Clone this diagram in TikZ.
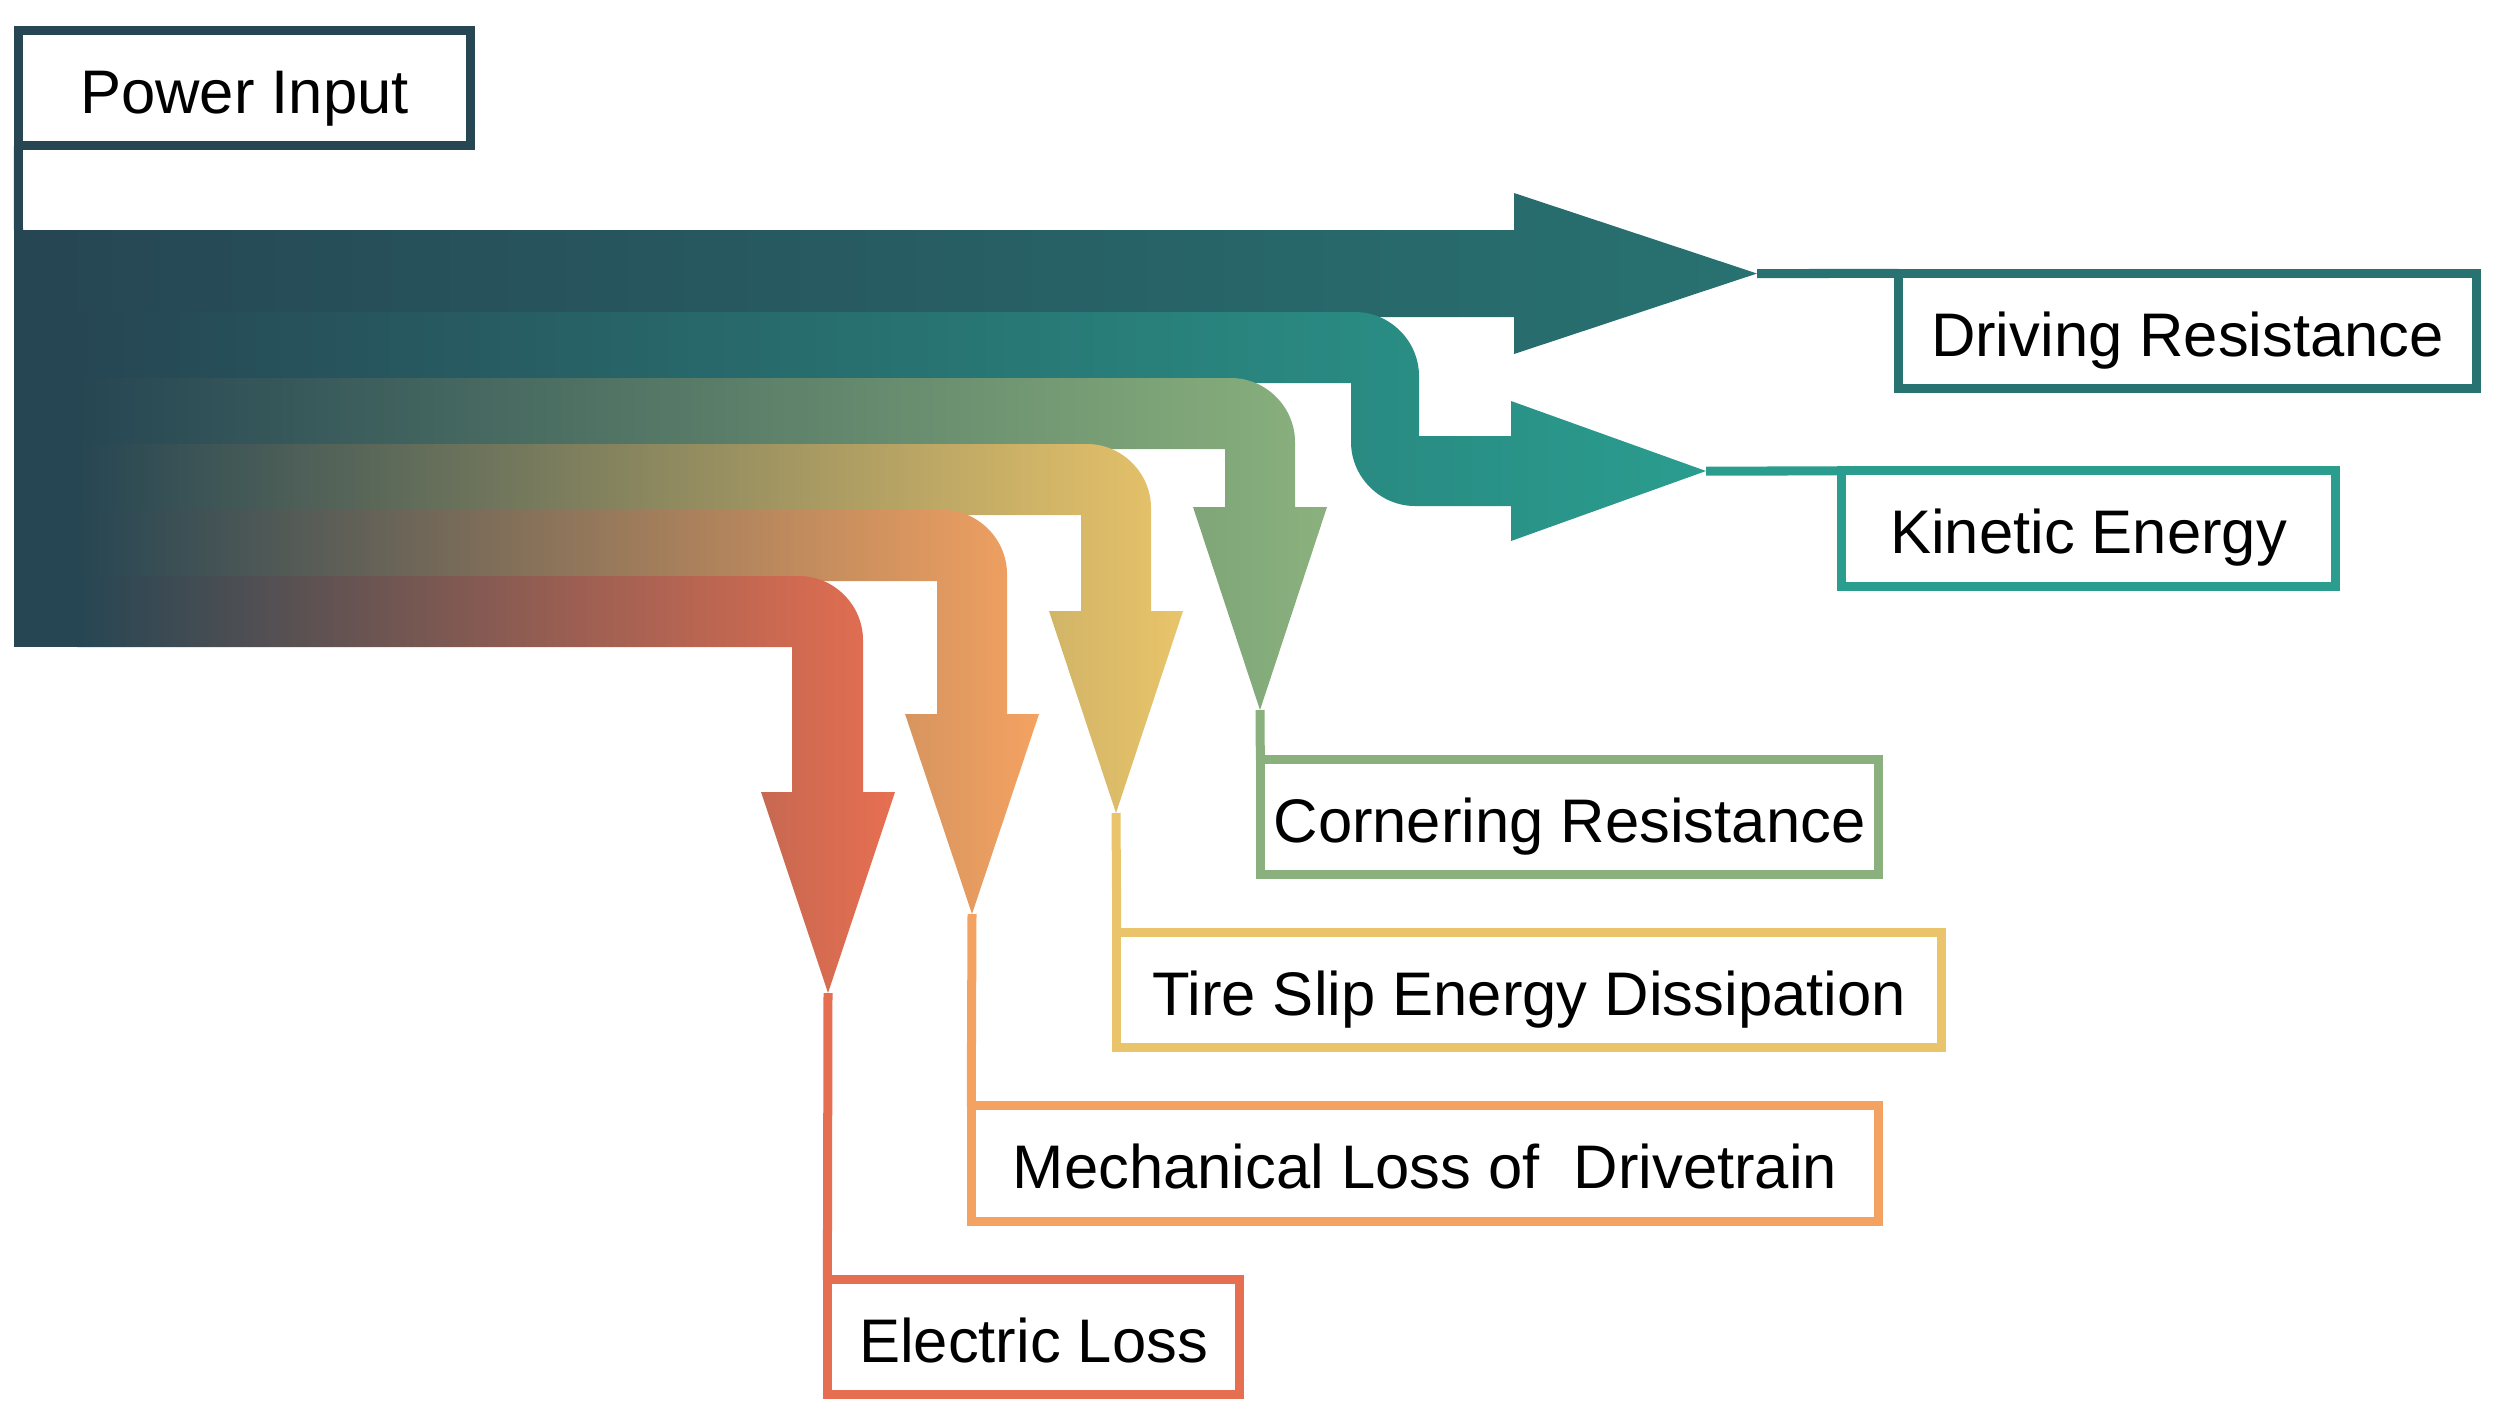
\documentclass[tikz,border=0pt]{standalone}
\usepackage{fontspec}
\setmainfont{Liberation Sans}
\definecolor{figCarbon}{HTML}{264653}
\definecolor{figPetroleo}{HTML}{287271}
\definecolor{figTurquesa}{HTML}{2A9D8F}
\definecolor{figSalvia}{HTML}{8AB17D}
\definecolor{figAzafran}{HTML}{E9C46A}
\definecolor{figArena}{HTML}{F4A261}
\definecolor{figSiena}{HTML}{E76F51}
\tikzset{
  caja/.style={
    rectangle, draw=#1, line width=0.09cm, fill=white,
    minimum height=1.15cm, inner sep=0pt, outer sep=0pt,
    text height=14.3pt, text depth=0pt,
    font=\fontsize{17.5}{21}\selectfont
  },
  guia/.style={draw=#1, line width=0.09cm},
  flujo/.style={left color=figCarbon, right color=#1}
}

\begin{document}
\begin{tikzpicture}[x=0.01cm, y=-0.01cm]
  \useasboundingbox (0,0) rectangle (2494,1408);

  % flujos
  \path[flujo=figPetroleo] (14,230) -- (1514,230) -- (1514,193) -- (1757,273.5)
    -- (1514,354) -- (1514,317) -- (14,317) -- cycle;
  \path[flujo=figTurquesa] (77,312) -- (1355,312) .. controls (1390,312) and (1419,341) .. (1419,376)
    -- (1419,436) -- (1511,436) -- (1511,401) -- (1706,471) -- (1511,541) -- (1511,506)
    -- (1415,506) .. controls (1380,506) and (1351,477) .. (1351,442) -- (1351,383) -- (77,383) -- cycle;
  \path[flujo=figSalvia] (77,378) -- (1231,378) .. controls (1266,378) and (1295,407) .. (1295,442)
    -- (1295,507) -- (1327,507) -- (1260,710) -- (1193,507) -- (1225,507) -- (1225,449) -- (77,449) -- cycle;
  \path[flujo=figAzafran] (77,444) -- (1087,444) .. controls (1122,444) and (1151,473) .. (1151,508)
    -- (1151,611) -- (1183,611) -- (1116,813) -- (1049,611) -- (1081,611) -- (1081,515) -- (77,515) -- cycle;
  \path[flujo=figArena] (77,510) -- (943,510) .. controls (978,510) and (1007,539) .. (1007,574)
    -- (1007,714) -- (1039,714) -- (972,914) -- (905,714) -- (937,714) -- (937,581) -- (77,581) -- cycle;
  \path[flujo=figSiena] (77,576) -- (799,576) .. controls (834,576) and (863,605) .. (863,640)
    -- (863,792) -- (895,792) -- (828,993) -- (761,792) -- (792,792) -- (792,647) -- (77,647) -- cycle;
  \fill[figCarbon] (14,230) rectangle (78,647);

  % puntas
  \coordinate (pin-f) at (18.5,230);
  \coordinate (dr-p) at (1757,273.5);
  \coordinate (ke-p) at (1706,471);
  \coordinate (cr-p) at (1260,710);
  \coordinate (ts-p) at (1116,813);
  \coordinate (ml-p) at (972,914);
  \coordinate (el-p) at (828,993);

  % etiquetas
  \node[caja=figCarbon, minimum width=4.52cm] (pin) at (244.5,88) {Power Input};
  \node[caja=figPetroleo, minimum width=5.78cm] (dr) at (2187.5,331) {Driving Resistance};
  \node[caja=figTurquesa, minimum width=4.94cm] (ke) at (2088.5,528.5) {Kinetic Energy};
  \node[caja=figSalvia, minimum width=6.18cm] (cr) at (1569.5,817) {Cornering Resistance};
  \node[caja=figAzafran, minimum width=8.24cm] (ts) at (1529,990) {Tire Slip Energy Dissipation};
  \node[caja=figArena, minimum width=9.07cm] (ml) at (1425,1163.5) {Mechanical Loss of~ Drivetrain};
  \node[caja=figSiena, minimum width=4.12cm] (el) at (1033.5,1337) {Electric Loss};

  \draw[guia=figCarbon] (pin.south west) -- (pin-f);
  \draw[guia=figPetroleo] (dr-p) -- (dr.north west);
  \draw[guia=figTurquesa] (ke-p) -- (ke.north west);
  \draw[guia=figSalvia] (cr-p) -- (cr.north west);
  \draw[guia=figAzafran] (ts-p) -- (ts.north west);
  \draw[guia=figArena] (ml-p) -- (ml.north west);
  \draw[guia=figSiena] (el-p) -- (el.north west);
\end{tikzpicture}
\end{document}
